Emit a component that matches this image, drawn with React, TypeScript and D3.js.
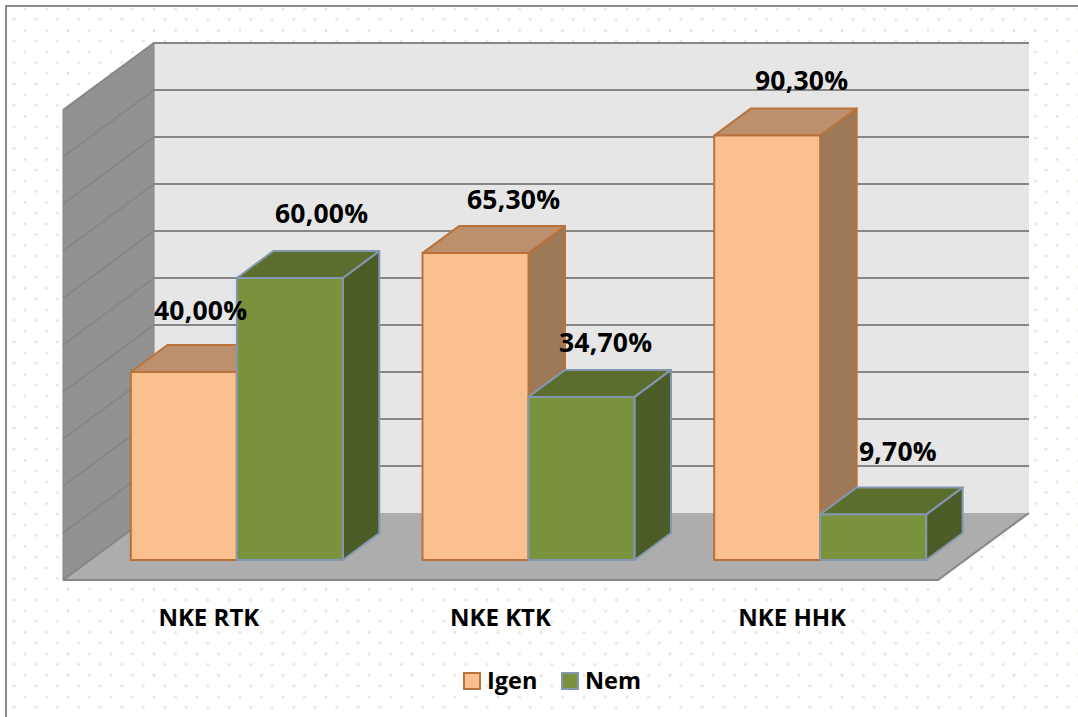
import React from "react";
import * as d3 from "d3";

const categories = ["NKE RTK", "NKE KTK", "NKE HHK"];
const seriesNames = ["Igen", "Nem"];
const igen = [40.0, 65.3, 90.3];
const nem = [60.0, 34.7, 9.7];
const gridTicks = d3.range(0, 101, 10);

const W = 1078, H = 717;
const FONT = "'Open Sans', Carlito, Calibri, sans-serif";
const frontLeft = 63, frontRight = 938, floorFront = 580;
const depthX = 91, depthY = 67;
const barShiftX = 28, barShiftY = 20, barDX = 36.5, barDY = 27;

const themes = [
  { front: "#fac090", top: "#bc906c", side: "#9d7958", stroke: "#b9733a" },
  { front: "#79923b", top: "#5c6e2d", side: "#4c5c26", stroke: "#8497b0" },
];

const xBand = d3.scaleBand<string>().domain(categories).range([frontLeft, frontRight]).paddingInner(0).paddingOuter(0);
const xSeries = d3.scaleBand<string>().domain(seriesNames).range([0, xBand.bandwidth()]).paddingInner(0).paddingOuter(0.376);
// y of the front plane of the bars
const yBar = d3.scaleLinear().domain([0, 100]).range([floorFront - barShiftY, floorFront - barShiftY - 470]);
// y of the back wall
const yWall = d3.scaleLinear().domain([0, 100]).range([floorFront - depthY, floorFront - depthY - 470]);
// y of the chart's front-left edge
const yEdge = d3.scaleLinear().domain([0, 100]).range([floorFront, floorFront - 470]);

const poly = (p: number[][]) => p.map((q) => q.join(",")).join(" ");

const labelOffsets = [
  [154, 320], [275, 223],
  [467, 209], [559, 352],
  [755, 90], [859, 461],
];

export default function App() {
  const wallL = frontLeft + depthX, wallR = frontRight + depthX;
  const wallTop = yWall(100), wallBot = yWall(0);
  const groups = categories.map((c, i) => ({ c, vals: [igen[i], nem[i]] }));
  return (
    <svg width={W} height={H} style={{ position: "absolute", left: 0, top: 0, background: "#fff" }} fontFamily={FONT}>
      <defs>
        <pattern id="dots" width={21.5} height={21.5} patternUnits="userSpaceOnUse" x={3.5} y={8.5}>
          <circle cx={10.75} cy={11} r={1.4} fill="#e6e4cf" />
          <circle cx={21.5} cy={0.5} r={1.4} fill="#e6e4cf" />
          <circle cx={0} cy={0.5} r={1.4} fill="#e6e4cf" />
          <circle cx={21.5} cy={22} r={1.4} fill="#e6e4cf" />
          <circle cx={0} cy={22} r={1.4} fill="#e6e4cf" />
        </pattern>
      </defs>
      <rect x={7} y={7} width={W - 7} height={H - 7} fill="url(#dots)" />
      <path d={`M6 ${H} V6 H${W}`} fill="none" stroke="#8a8a8a" strokeWidth={2} />

      {/* walls and floor */}
      <polygon points={poly([[wallL, wallTop], [wallR, wallTop], [wallR, wallBot], [wallL, wallBot]])} fill="#e6e6e6" />
      <polygon points={poly([[frontLeft, yEdge(100)], [wallL, wallTop], [wallL, wallBot], [frontLeft, floorFront]])} fill="#929292" stroke="#868686" strokeWidth={1} />
      <polygon points={poly([[frontLeft, floorFront], [wallL, wallBot], [wallR, wallBot], [frontRight, floorFront]])} fill="#adadad" />
      <path d={`M${frontLeft} ${floorFront} H${frontRight} L${wallR} ${wallBot}`} fill="none" stroke="#868686" strokeWidth={2} />
      {gridTicks.map((t) => (
        <g key={t} stroke="#868686" strokeWidth={2} fill="none">
          <path d={`M${frontLeft} ${yEdge(t)} L${wallL} ${yWall(t)} H${t === 0 ? wallL : wallR}`} />
        </g>
      ))}

      {/* bars */}
      {groups.map((g) =>
        g.vals.map((v, si) => {
          const th = themes[si];
          const x0 = xBand(g.c)! + barShiftX + xSeries(seriesNames[si])!;
          const x1 = x0 + xSeries.bandwidth();
          const yT = yBar(v), yB = yBar(0);
          return (
            <g key={g.c + si} stroke={th.stroke} strokeWidth={2} strokeLinejoin="round">
              <polygon points={poly([[x1, yT], [x1 + barDX, yT - barDY], [x1 + barDX, yB - barDY], [x1, yB]])} fill={th.side} />
              <polygon points={poly([[x0, yT], [x0 + barDX, yT - barDY], [x1 + barDX, yT - barDY], [x1, yT]])} fill={th.top} />
              <rect x={x0} y={yT} width={x1 - x0} height={yB - yT} fill={th.front} />
            </g>
          );
        })
      )}

      {/* data labels */}
      {groups.flatMap((g) => g.vals).map((v, i) => (
        <text key={i} x={labelOffsets[i][0]} y={labelOffsets[i][1]} fontSize={26.5} letterSpacing={0.2} fontWeight={700} fill="#000">
          {v.toFixed(2).replace(".", ",")}%
        </text>
      ))}

      {/* category labels */}
      {categories.map((c) => (
        <text key={c} x={xBand(c)! + xBand.bandwidth() / 2} y={626} textAnchor="middle" fontSize={24} fontWeight={700} fill="#000">
          {c}
        </text>
      ))}

      {/* legend */}
      {seriesNames.map((s, i) => {
        const x = [464, 562][i];
        return (
          <g key={s}>
            <rect x={x} y={673} width={16} height={16} fill={themes[i].front} stroke={themes[i].stroke} strokeWidth={2} />
            <text x={x + 23} y={689} fontSize={23.5} fontWeight={700} fill="#000">{s}</text>
          </g>
        );
      })}
    </svg>
  );
}
